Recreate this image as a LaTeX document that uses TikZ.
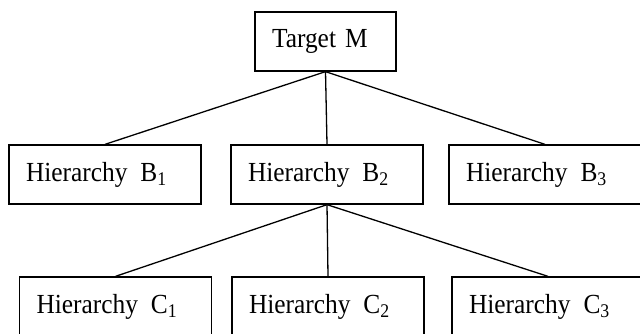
\documentclass[tikz,border=0pt]{standalone}
\usepackage{fontspec}
\setmainfont[FakeStretch=0.92]{Liberation Serif}
\usetikzlibrary{positioning}

\begin{document}
\begin{tikzpicture}[
		x=0.5pt, y=-0.5pt,
		goal/.style={rectangle, draw=black, line width=0.65pt, inner xsep=8.5pt, inner ysep=0pt, text width=53.5pt, align=left, minimum height=29.5pt, font=\fontsize{13.8}{16}\selectfont},
		level/.style={rectangle, draw=black, line width=0.65pt, inner xsep=8.5pt, inner ysep=0pt, text width=79pt, align=left, minimum height=29.5pt, font=\fontsize{13.8}{16}\selectfont},
		link/.style={draw=black, line width=0.65pt}
		]
		\useasboundingbox (0, 0) rectangle (640, 333);
		\node at (325.5, 41.5) [name=target, goal] {Target M};
		\node at (105, 174.5) [name=hierarchy B1, level] {Hierarchy\hspace{6.5pt}B\textsubscript{1}};
		\node at (327, 174.5) [name=hierarchy B2, level] {Hierarchy\hspace{6.5pt}B\textsubscript{2}};
		\node at (545, 174.5) [name=hierarchy B3, level] {Hierarchy\hspace{6.5pt}B\textsubscript{3}};
		\node at (115.5, 306.5) [name=hierarchy C1, level] {Hierarchy\hspace{6.5pt}C\textsubscript{1}};
		\node at (328, 306.5) [name=hierarchy C2, level] {Hierarchy\hspace{6.5pt}C\textsubscript{2}};
		\node at (548, 306.5) [name=hierarchy C3, level] {Hierarchy\hspace{6.5pt}C\textsubscript{3}};
		\foreach \b in {B1, B2, B3}
			\draw [link] (target.south) -- (hierarchy \b.north);
		\foreach \c in {C1, C2, C3}
			\draw [link] (hierarchy B2.south) -- (hierarchy \c.north);
	\end{tikzpicture}
\end{document}
